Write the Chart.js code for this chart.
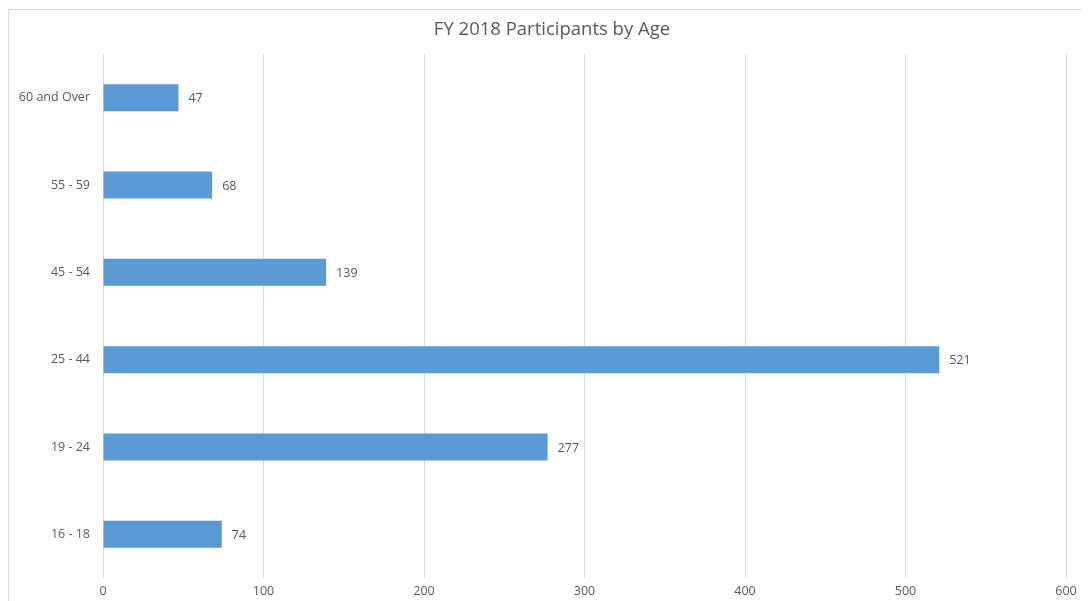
<!DOCTYPE html>
<html>
<head>
<meta charset="utf-8">
<script src="https://cdn.jsdelivr.net/npm/chart.js@4"></script>
<style>
html,body{margin:0;padding:0;background:#fff;}
#wrap{position:relative;width:1091px;height:601px;}
canvas{display:block;}
</style>
</head>
<body>
<div id="wrap"><canvas id="c" width="1091" height="601"></canvas></div>
<script>
const categories = ["60 and Over", "55 - 59", "45 - 54", "25 - 44", "19 - 24", "16 - 18"];
const participants = [47, 68, 139, 521, 277, 74];
const xTicks = [0, 100, 200, 300, 400, 500, 600];
const chartTitle = "FY 2018 Participants by Age";

const FONT = "'Open Sans', 'Liberation Sans', sans-serif";
const TXT = "#595959";

const framePlugin = {
  id: 'frame',
  beforeDraw(chart) {
    const ctx = chart.ctx;
    ctx.save();
    ctx.fillStyle = '#fff';
    ctx.fillRect(0, 0, chart.width, chart.height);
    ctx.strokeStyle = '#d9d9d9';
    ctx.lineWidth = 1;
    ctx.beginPath();
    ctx.moveTo(8.5, 601);
    ctx.lineTo(8.5, 9.5);
    ctx.lineTo(1081.5, 9.5);
    ctx.stroke();
    ctx.font = "18.5px " + FONT;
    ctx.fillStyle = TXT;
    ctx.textAlign = 'center';
    ctx.textBaseline = 'middle';
    ctx.fillText(chartTitle, 552, 30);
    ctx.restore();
  }
};

const labelPlugin = {
  id: 'barLabels',
  afterDatasetsDraw(chart) {
    const ctx = chart.ctx;
    ctx.save();
    ctx.font = "12.5px " + FONT;
    ctx.fillStyle = TXT;
    ctx.textAlign = 'left';
    ctx.textBaseline = 'middle';
    chart.getDatasetMeta(0).data.forEach((el, i) => {
      ctx.fillText(String(participants[i]), el.x + 10, el.y + 1);
    });
    ctx.restore();
  }
};

new Chart(document.getElementById('c'), {
  type: 'bar',
  data: {
    labels: categories,
    datasets: [{
      data: participants,
      backgroundColor: '#5B9BD5',
      borderWidth: 0,
      barPercentage: 1,
      categoryPercentage: 0.31
    }]
  },
  options: {
    indexAxis: 'y',
    responsive: false,
    animation: false,
    layout: { padding: { left: 0, right: 25, top: 54, bottom: 0 } },
    plugins: {
      legend: { display: false },
      tooltip: { enabled: false },
      title: { display: false }
    },
    scales: {
      x: {
        min: 0, max: 600,
        afterBuildTicks(scale) { scale.ticks = xTicks.map(v => ({ value: v })); },
        afterFit(scale) { scale.height = 23; },
        grid: { color: '#d9d9d9', drawTicks: false },
        border: { display: false },
        ticks: { color: TXT, padding: 6, font: { family: FONT, size: 12.5 } }
      },
      y: {
        afterFit(scale) { scale.width = 103; },
        grid: { display: false, drawTicks: false },
        border: { display: false },
        ticks: { color: TXT, padding: 13, font: { family: FONT, size: 12.5 } }
      }
    }
  },
  plugins: [framePlugin, labelPlugin]
});
</script>
</body>
</html>
